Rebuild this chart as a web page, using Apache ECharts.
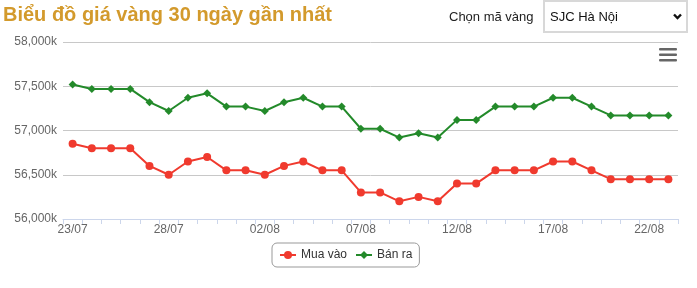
<!DOCTYPE html>
<html>
<head>
<meta charset="utf-8">
<script src="https://cdn.jsdelivr.net/npm/echarts@6/dist/echarts.min.js"></script>
<style>
html,body{margin:0;padding:0;background:#fff;}
#chart{width:697px;height:288px;}
</style>
</head>
<body>
<div id="chart"></div>
<script>
var categories = ['23/07','24/07','25/07','26/07','27/07','28/07','29/07','30/07','31/07','01/08',
  '02/08','03/08','04/08','05/08','06/08','07/08','08/08','09/08','10/08','11/08',
  '12/08','13/08','14/08','15/08','16/08','17/08','18/08','19/08','20/08','21/08','22/08','23/08'];
var muaVao = [56850,56800,56800,56800,56600,56500,56650,56700,56550,56550,
  56500,56600,56650,56550,56550,56300,56300,56200,56250,56200,
  56400,56400,56550,56550,56550,56650,56650,56550,56450,56450,56450,56450];
var banRa = [57520,57470,57470,57470,57320,57220,57370,57420,57270,57270,
  57220,57320,57370,57270,57270,57020,57020,56920,56970,56920,
  57120,57120,57270,57270,57270,57370,57370,57270,57170,57170,57170,57170];
var yTicks = [56000,56500,57000,57500,58000];
var titleText = 'Biểu đồ giá vàng 30 ngày gần nhất';
var selectLabel = 'Chọn mã vàng';
var selectValue = 'SJC Hà Nội';
var seriesNames = ['Mua vào','Bán ra'];

function fmt(v){ return String(v).replace(/\B(?=(\d{3})+(?!\d))/g, ',') + 'k'; }

var chart = echarts.init(document.getElementById('chart'), null, {renderer:'canvas'});
var font = 'Arial, "Liberation Sans", sans-serif';
chart.setOption({
  animation:false,
  textStyle:{fontFamily:font},
  title:{
    text:titleText, left:3, top:5, padding:0,
    textStyle:{fontFamily:font, fontSize:20, fontWeight:'bold', color:'#d39a2c'}
  },
  graphic:[
    {type:'text', left:449, top:11, style:{text:selectLabel, font:'13px Arial, "Liberation Sans", sans-serif', fill:'#222'}},
    {type:'rect', shape:{x:544, y:1, width:143, height:31}, style:{fill:'#fff', stroke:'#d8d8d8', lineWidth:2}},
    {type:'text', left:550, top:11, style:{text:selectValue, font:'13px Arial, "Liberation Sans", sans-serif', fill:'#111'}},
    {type:'polyline', shape:{points:[[674,14.5],[677.5,18],[681,14.5]]}, style:{stroke:'#111', lineWidth:2.4, fill:null}},
    {type:'rect', shape:{x:659, y:48, width:18, height:2.6, r:1}, style:{fill:'#666'}},
    {type:'rect', shape:{x:659, y:53.5, width:18, height:2.6, r:1}, style:{fill:'#666'}},
    {type:'rect', shape:{x:659, y:59, width:18, height:2.6, r:1}, style:{fill:'#666'}}
  ],
  legend:{
    data:seriesNames, left:272, top:243,
    borderColor:'#999', borderWidth:1, borderRadius:5,
    padding:[6,7], itemGap:8, itemWidth:16, itemHeight:10,
    textStyle:{fontFamily:font, fontSize:12, color:'#333'}
  },
  grid:{left:63, right:19, top:42, bottom:69, containLabel:false},
  xAxis:{
    type:'category', data:categories, boundaryGap:true,
    axisLine:{lineStyle:{color:'#ccd6eb', width:1}},
    axisTick:{show:true, interval:0, length:5, lineStyle:{color:'#ccd6eb'}},
    axisLabel:{interval:4, color:'#666', fontSize:12, margin:5, fontFamily:font},
    splitLine:{show:false}
  },
  yAxis:{
    type:'value', min:yTicks[0], max:yTicks[yTicks.length-1], interval:500,
    axisLine:{show:false}, axisTick:{show:false},
    axisLabel:{formatter:fmt, color:'#666', fontSize:12, margin:6, fontFamily:font},
    splitLine:{lineStyle:{color:'#c8c8c8', width:1}}
  },
  series:[
    {name:seriesNames[0], type:'line', data:muaVao, symbol:'circle', symbolSize:8, showAllSymbol:true,
     itemStyle:{color:'#f03a2e'}, lineStyle:{color:'#f03a2e', width:2}},
    {name:seriesNames[1], type:'line', data:banRa, symbol:'diamond', symbolSize:8, showAllSymbol:true,
     itemStyle:{color:'#238a2a'}, lineStyle:{color:'#238a2a', width:2}}
  ]
});
</script>
</body>
</html>
